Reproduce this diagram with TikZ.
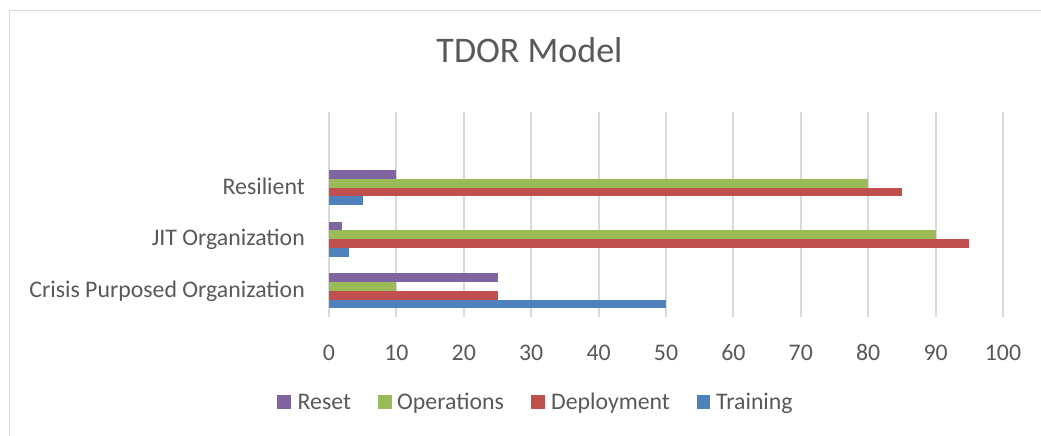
\documentclass[tikz,border=0pt]{standalone}
\usepackage{fontspec}
\setmainfont{Carlito}
\definecolor{txt}{HTML}{595959}
\definecolor{gridgray}{HTML}{D9D9D9}
\definecolor{cTrain}{HTML}{4F81BD}
\definecolor{cDeploy}{HTML}{C0504D}
\definecolor{cOps}{HTML}{9BBB59}
\definecolor{cReset}{HTML}{8064A2}
\begin{document}
\begin{tikzpicture}[x=1pt,y=-1pt,
  frameline/.style={draw=gridgray,line width=1.2pt},
  gridline/.style={draw=gridgray,line width=2pt},
  ticklabel/.style={text=txt,font=\fontsize{23.8}{26}\selectfont,anchor=base,inner sep=0pt},
  catlabel/.style={text=txt,font=\fontsize{23.8}{26}\selectfont,anchor=base east,inner sep=0pt},
  legtext/.style={text=txt,font=\fontsize{23.8}{26}\selectfont,anchor=base west,inner sep=0pt},
  legkey/.style={minimum width=13.5pt,minimum height=14pt,inner sep=0pt,anchor=west},
  titlestyle/.style={text=txt,font=\fontsize{36}{40}\selectfont,anchor=base,inner sep=0pt}]
\fill[white] (0,0) rectangle (1041,436);
\useasboundingbox (0,0) rectangle (1041,436);
% chart frame (top and left edges are inside the page)
\draw[frameline] (1045,10.5) -- (9.5,10.5) -- (9.5,440);
% title
\node[titlestyle] (title) at (529.5,63) {TDOR Model};
% vertical gridlines and value axis labels
\foreach \k in {0,...,10}{
  \draw[gridline] (329+67.4*\k,112) -- (329+67.4*\k,316.7);
  \pgfmathtruncatemacro{\v}{10*\k}
  \node[ticklabel] (tick\k) at (329+67.4*\k,360) {\v};
}
% category labels
\node[catlabel] (catR) at (305,194.3) {Resilient};
\node[catlabel] (catJ) at (305,245.9) {JIT Organization};
\node[catlabel] (catC) at (305,297.5) {Crisis Purposed Organization};
% bars: centre / Reset / Operations / Deployment / Training
\foreach \c/\r/\o/\d/\t in {187.6/10/80/85/5, 239.2/2/90/95/3, 290.8/25/10/25/50}{
  \fill[cReset]  (329,\c-17.5)  rectangle (329+6.74*\r,\c-8.75);
  \fill[cOps]    (329,\c-8.75)  rectangle (329+6.74*\o,\c);
  \fill[cDeploy] (329,\c)       rectangle (329+6.74*\d,\c+8.75);
  \fill[cTrain]  (329,\c+8.75)  rectangle (329+6.74*\t,\c+17.5);
}
% legend
\node[legkey,fill=cReset]  (kReset)  at (277,402) {};
\node[legtext] (lReset)  at (297.5,409.5) {Reset};
\node[legkey,fill=cOps]    (kOps)    at (378,402) {};
\node[legtext] (lOps)    at (397,409.5) {Operations};
\node[legkey,fill=cDeploy] (kDeploy) at (531,402) {};
\node[legtext] (lDeploy) at (551,409.5) {Deployment};
\node[legkey,fill=cTrain]  (kTrain)  at (696.5,402) {};
\node[legtext] (lTrain)  at (716,409.5) {Training};
\end{tikzpicture}
\end{document}
